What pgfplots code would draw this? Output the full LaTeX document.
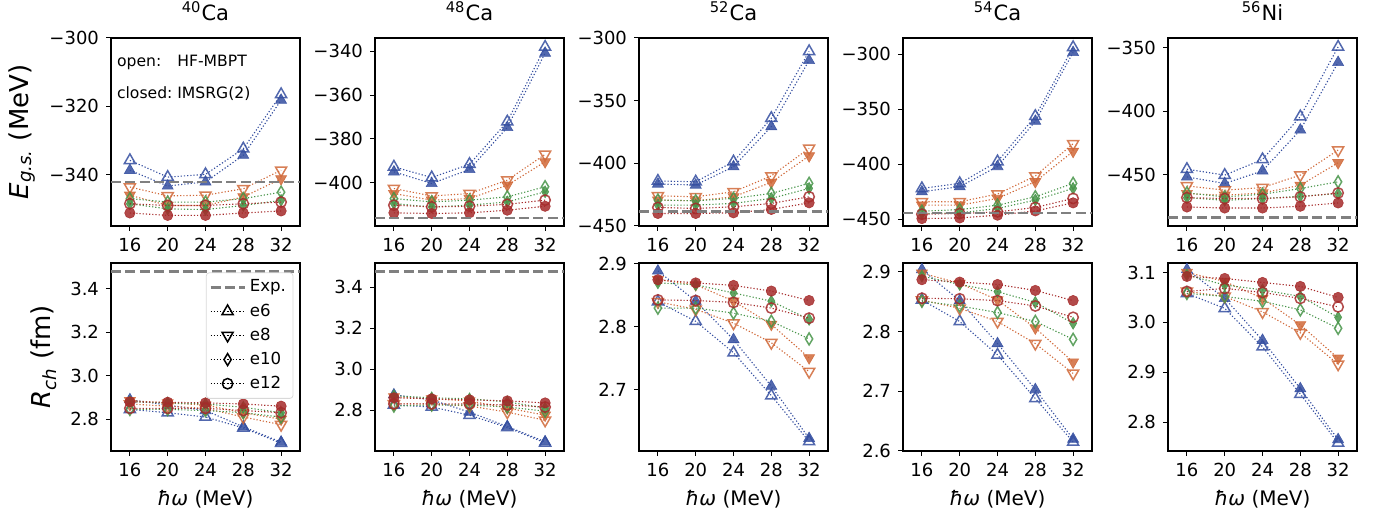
\documentclass[border=0pt]{standalone}
\usepackage{fontspec}
\setmainfont{DejaVu Sans}
\usepackage{pgfplots}
\usepackage{pgfplotstable}
\pgfplotsset{compat=1.18}

\definecolor{c6}{RGB}{52,78,160}
\definecolor{c8}{RGB}{208,104,56}
\definecolor{c10}{RGB}{70,148,72}
\definecolor{c12}{RGB}{165,42,42}
\definecolor{expgray}{RGB}{128,128,128}

\pgfplotstableread{
hw e6o e6c e8o e8c e10o e10c e12o e12c
16 -335.8 -338.7 -343.6 -346.0 -347.0 -348.5 -348.5 -351.2
20 -340.7 -343.3 -346.2 -349.0 -348.0 -350.0 -349.0 -351.9
24 -339.9 -342.1 -346.0 -349.0 -348.0 -350.2 -349.0 -351.9
28 -332.4 -334.3 -344.1 -346.5 -347.0 -349.0 -348.5 -351.2
32 -316.5 -318.2 -338.7 -341.2 -345.1 -347.5 -348.0 -350.6
}\TEa
\pgfplotstableread{
hw e6o e6c e8o e8c e10o e10c e12o e12c
16 -392.7 -395.0 -402.6 -404.9 -407.2 -409.5 -410.2 -413.7
20 -397.6 -400.3 -406.0 -407.9 -408.7 -411.0 -411.0 -414.0
24 -391.5 -393.9 -404.9 -407.2 -407.9 -410.2 -410.7 -413.7
28 -372.1 -374.7 -398.8 -401.1 -406.4 -408.7 -409.8 -412.5
32 -338.0 -340.8 -387.0 -390.4 -401.8 -404.1 -407.9 -410.7
}\TEb
\pgfplotstableread{
hw e6o e6c e8o e8c e10o e10c e12o e12c
16 -414.1 -416.5 -425.9 -429.3 -429.3 -433.3 -435.2 -440.0
20 -414.7 -417.3 -426.7 -429.9 -429.9 -433.3 -436.0 -440.0
24 -398.7 -402.7 -422.7 -426.7 -428.0 -432.0 -434.7 -439.5
28 -364.0 -370.7 -410.1 -415.2 -424.0 -428.0 -432.0 -436.8
32 -310.7 -317.9 -388.0 -394.1 -416.0 -420.0 -426.7 -431.5
}\TEc
\pgfplotstableread{
hw e6o e6c e8o e8c e10o e10c e12o e12c
16 -422.0 -425.0 -434.1 -437.2 -442.7 -444.8 -445.4 -449.4
20 -417.4 -420.4 -434.1 -437.2 -441.2 -444.2 -444.8 -448.8
24 -397.6 -402.1 -427.1 -431.1 -437.2 -440.2 -443.3 -446.3
28 -356.4 -361.0 -410.7 -415.9 -429.6 -432.6 -439.3 -442.4
32 -293.9 -298.5 -381.4 -388.4 -417.4 -422.0 -431.1 -435.1
}\TEd
\pgfplotstableread{
hw e6o e6c e8o e8c e10o e10c e12o e12c
16 -445.8 -451.9 -459.0 -465.1 -464.6 -468.3 -468.3 -475.7
20 -450.5 -457.1 -462.4 -466.4 -467.7 -470.4 -469.0 -476.5
24 -438.1 -447.1 -460.3 -464.6 -465.6 -469.0 -469.0 -476.5
28 -404.2 -414.8 -450.5 -458.5 -461.1 -467.2 -467.7 -475.1
32 -349.2 -361.4 -430.7 -440.7 -455.8 -465.1 -464.6 -472.5
}\TEe
\pgfplotstableread{
hw e6o e6c e8o e8c e10o e10c e12o e12c
16 2.845 2.890 2.870 2.885 2.845 2.880 2.850 2.880
20 2.830 2.865 2.860 2.875 2.845 2.875 2.850 2.878
24 2.810 2.840 2.850 2.865 2.840 2.870 2.850 2.875
28 2.760 2.765 2.810 2.830 2.830 2.855 2.840 2.870
32 2.690 2.695 2.775 2.800 2.810 2.830 2.830 2.860
}\TRa
\pgfplotstableread{
hw e6o e6c e8o e8c e10o e10c e12o e12c
16 2.825 2.875 2.830 2.865 2.820 2.870 2.830 2.860
20 2.815 2.850 2.830 2.855 2.825 2.860 2.830 2.855
24 2.775 2.790 2.820 2.845 2.825 2.855 2.830 2.850
28 2.715 2.720 2.790 2.810 2.815 2.840 2.825 2.845
32 2.640 2.645 2.750 2.775 2.795 2.810 2.815 2.835
}\TRb
\pgfplotstableread{
hw e6o e6c e8o e8c e10o e10c e12o e12c
16 2.840 2.889 2.840 2.875 2.830 2.870 2.843 2.875
20 2.809 2.841 2.828 2.867 2.830 2.867 2.842 2.870
24 2.759 2.780 2.806 2.841 2.822 2.854 2.839 2.866
28 2.691 2.706 2.775 2.804 2.809 2.841 2.830 2.857
32 2.618 2.623 2.729 2.751 2.781 2.812 2.814 2.842
}\TRc
\pgfplotstableread{
hw e6o e6c e8o e8c e10o e10c e12o e12c
16 2.853 2.904 2.853 2.898 2.851 2.893 2.856 2.887
20 2.817 2.852 2.839 2.881 2.843 2.879 2.855 2.883
24 2.761 2.780 2.817 2.853 2.832 2.867 2.852 2.879
28 2.688 2.703 2.780 2.806 2.817 2.849 2.843 2.869
32 2.615 2.620 2.730 2.749 2.787 2.814 2.824 2.852
}\TRd
\pgfplotstableread{
hw e6o e6c e8o e8c e10o e10c e12o e12c
16 3.058 3.106 3.062 3.100 3.058 3.095 3.062 3.092
20 3.028 3.048 3.052 3.082 3.052 3.075 3.068 3.088
24 2.951 2.964 3.021 3.048 3.042 3.065 3.060 3.080
28 2.856 2.867 2.979 2.995 3.025 3.052 3.048 3.072
32 2.758 2.765 2.916 2.928 2.988 3.010 3.031 3.050
}\TRe

\pgfplotsset{
  ser/.style={forget plot, line width=0.55pt, dash pattern=on 0.6pt off 1pt},
  e6o/.style={ser, c6, mark=triangle, mark size=3.2pt, mark options={solid, draw=c6, fill=none, line width=0.75pt, opacity=0.85}},
  e6c/.style={ser, c6, mark=triangle*, mark size=3.2pt, mark options={solid, draw=c6, fill=c6, line width=0.3pt, opacity=0.85}},
  e8o/.style={ser, c8, mark=triangle, mark size=3.2pt, mark options={solid, rotate=180, draw=c8, fill=none, line width=0.75pt, opacity=0.85}},
  e8c/.style={ser, c8, mark=triangle*, mark size=3.2pt, mark options={solid, rotate=180, draw=c8, fill=c8, line width=0.3pt, opacity=0.85}},
  e10o/.style={ser, c10, mark=diamond, mark size=3pt, mark options={solid, xscale=0.8, draw=c10, fill=none, line width=0.75pt, opacity=0.85}},
  e10c/.style={ser, c10, mark=diamond*, mark size=3pt, mark options={solid, xscale=0.8, draw=c10, fill=c10, line width=0.3pt, opacity=0.85}},
  e12o/.style={ser, c12, mark=o, mark size=2.6pt, mark options={solid, draw=c12, fill=none, line width=0.75pt, opacity=0.85}},
  e12c/.style={ser, c12, mark=*, mark size=2.6pt, mark options={solid, draw=c12, fill=c12, line width=0.3pt, opacity=0.85}},
  expl/.style={forget plot, expgray, line width=1.2pt, dash pattern=on 5pt off 2.2pt},
  base/.style={
    scale only axis, width=94.5pt, height=94pt, anchor=south west,
    xmin=14, xmax=34, xtick={16,20,24,28,32}, xticklabels={16,20,24,28,32},
    tick align=outside, tick pos=left, major tick length=2.5pt,
    every tick/.style={black, line width=0.5pt},
    axis line style={line width=0.6pt},
    tick label style={font=\fontsize{9}{10}\selectfont},
    clip mode=individual,
    title style={font=\fontsize{10.5}{12}\selectfont, yshift=-1pt},
    ylabel style={font=\fontsize{13}{14}\selectfont},
    xlabel style={font=\fontsize{10}{12}\selectfont},
  },
}

\newcommand{\allseries}[1]{%
  \addplot[e6o] table[x=hw,y=e6o]{#1};
  \addplot[e6c] table[x=hw,y=e6c]{#1};
  \addplot[e8o] table[x=hw,y=e8o]{#1};
  \addplot[e8c] table[x=hw,y=e8c]{#1};
  \addplot[e10o] table[x=hw,y=e10o]{#1};
  \addplot[e10c] table[x=hw,y=e10c]{#1};
  \addplot[e12o] table[x=hw,y=e12o]{#1};
  \addplot[e12c] table[x=hw,y=e12c]{#1};
}

\begin{document}
\begin{tikzpicture}
% ---------- top row ----------
\begin{axis}[base, at={(55.5pt,143pt)}, ymin=-355, ymax=-300,
  ytick={-340,-320,-300}, yticklabels={−340,−320,−300},
  title={\textsuperscript{40}Ca},
  ylabel={{\itshape E}\textsubscript{\itshape g.s.} (MeV)}]
\allseries{\TEa}
\addplot[expl] coordinates {(14,-342.05) (34,-342.05)};
\node[anchor=north west, inner sep=0pt, align=left, font=\fontsize{7.8}{14}\selectfont]
  at (rel axis cs:0.03,0.955) {\begin{tabular}{@{}l@{\ }l@{}}open: & HF-MBPT\\[2pt] closed: & IMSRG(2)\end{tabular}};
\end{axis}

\begin{axis}[base, at={(187.5pt,143pt)}, ymin=-419.7, ymax=-333.9,
  ytick={-400,-380,-360,-340}, yticklabels={−400,−380,−360,−340},
  title={\textsuperscript{48}Ca}]
\allseries{\TEb}
\addplot[expl] coordinates {(14,-416.0) (34,-416.0)};
\end{axis}

\begin{axis}[base, at={(319.5pt,143pt)}, ymin=-450, ymax=-300,
  ytick={-450,-400,-350,-300}, yticklabels={−450,−400,−350,−300},
  title={\textsuperscript{52}Ca}]
\allseries{\TEc}
\addplot[expl] coordinates {(14,-438.3) (34,-438.3)};
\end{axis}

\begin{axis}[base, at={(451.5pt,143pt)}, ymin=-456.1, ymax=-285.4,
  ytick={-450,-400,-350,-300}, yticklabels={−450,−400,−350,−300},
  title={\textsuperscript{54}Ca}]
\allseries{\TEd}
\addplot[expl] coordinates {(14,-444.2) (34,-444.2)};
\end{axis}

\begin{axis}[base, at={(584pt,143pt)}, ymin=-490.7, ymax=-342.1,
  ytick={-450,-400,-350}, yticklabels={−450,−400,−350},
  title={\textsuperscript{56}Ni}]
\allseries{\TEe}
\addplot[expl] coordinates {(14,-484.0) (34,-484.0)};
\end{axis}

% ---------- bottom row ----------
\begin{axis}[base, at={(55.5pt,30.5pt)}, ymin=2.654, ymax=3.518,
  ytick={2.8,3.0,3.2,3.4}, yticklabels={2.8,3.0,3.2,3.4},
  ylabel={{\itshape R}\textsubscript{\itshape ch} (fm)},
  xlabel={{\itshape ħω} (MeV)},
  legend style={at={(0.965,0.95)}, anchor=north east, draw=black!15, rounded corners=1.5pt,
    font=\fontsize{8.3}{10}\selectfont, row sep=0.4pt, inner sep=1.5pt, fill=white, fill opacity=0.8, text opacity=1},
  legend cell align=left]
\addplot[expl] coordinates {(14,3.478) (34,3.478)};
\allseries{\TRa}
\addlegendimage{expgray, line width=1.2pt, dash pattern=on 5pt off 2.2pt}
\addlegendentry{Exp.}
\addlegendimage{black, line width=0.55pt, dash pattern=on 0.6pt off 1pt, mark=triangle, mark size=3.2pt, mark options={solid, fill=none, line width=0.75pt}}
\addlegendentry{e6}
\addlegendimage{black, line width=0.55pt, dash pattern=on 0.6pt off 1pt, mark=triangle, mark size=3.2pt, mark options={solid, rotate=180, fill=none, line width=0.75pt}}
\addlegendentry{e8}
\addlegendimage{black, line width=0.55pt, dash pattern=on 0.6pt off 1pt, mark=diamond, mark size=3pt, mark options={solid, xscale=0.8, fill=none, line width=0.75pt}}
\addlegendentry{e10}
\addlegendimage{black, line width=0.55pt, dash pattern=on 0.6pt off 1pt, mark=o, mark size=2.6pt, mark options={solid, fill=none, line width=0.75pt}}
\addlegendentry{e12}
\end{axis}

\begin{axis}[base, at={(187.5pt,30.5pt)}, ymin=2.60, ymax=3.519,
  ytick={2.8,3.0,3.2,3.4}, yticklabels={2.8,3.0,3.2,3.4},
  xlabel={{\itshape ħω} (MeV)}]
\addplot[expl] coordinates {(14,3.477) (34,3.477)};
\allseries{\TRb}
\end{axis}

\begin{axis}[base, at={(319.5pt,30.5pt)}, ymin=2.603, ymax=2.9016,
  ytick={2.7,2.8,2.9}, yticklabels={2.7,2.8,2.9},
  xlabel={{\itshape ħω} (MeV)}]
\allseries{\TRc}
\end{axis}

\begin{axis}[base, at={(451.5pt,30.5pt)}, ymin=2.60, ymax=2.915,
  ytick={2.6,2.7,2.8,2.9}, yticklabels={2.6,2.7,2.8,2.9},
  xlabel={{\itshape ħω} (MeV)}]
\allseries{\TRd}
\end{axis}

\begin{axis}[base, at={(584pt,30.5pt)}, ymin=2.742, ymax=3.119,
  ytick={2.8,2.9,3.0,3.1}, yticklabels={2.8,2.9,3.0,3.1},
  xlabel={{\itshape ħω} (MeV)}]
\allseries{\TRe}
\end{axis}

\pgfresetboundingbox
\path[use as bounding box] (0,0) rectangle (687.5pt,256pt);
\end{tikzpicture}
\end{document}
